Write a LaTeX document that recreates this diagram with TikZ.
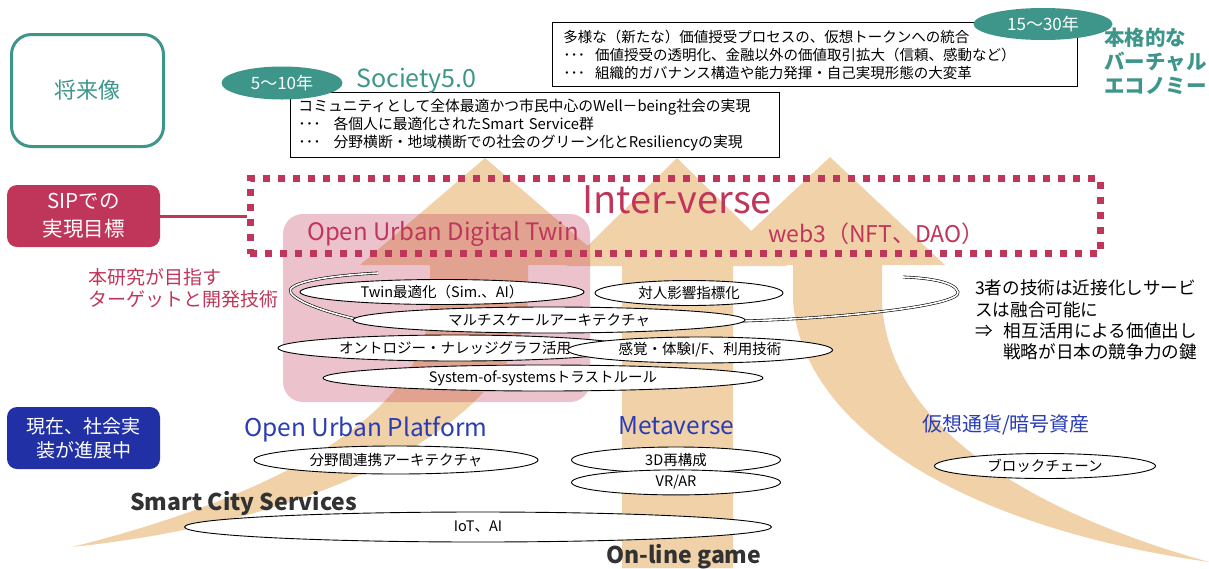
\documentclass[tikz,border=0pt]{standalone}
\usepackage{fontspec}
\setmainfont{Noto Sans CJK JP}
\usepackage{xcolor}
\definecolor{sipcrimson}{RGB}{192,54,90}
\definecolor{visionteal}{RGB}{62,150,138}
\definecolor{nowblue}{RGB}{33,48,165}
\definecolor{fieldblue}{RGB}{40,60,180}
\definecolor{growtan}{RGB}{241,210,168}
\definecolor{inkgray}{RGB}{50,50,50}
\usepackage{tikz}
\usetikzlibrary{shapes.geometric, positioning}
\newcommand{\fsz}[2]{\fontsize{#1pt}{#2pt}\selectfont}

\begin{document}
\begin{tikzpicture}[x=1pt, y=-1pt,
  techoval/.style={ellipse, draw, line width=0.9pt, fill=white, inner sep=0pt, font=\fsz{14.5}{17}},
  yearoval/.style={ellipse, fill=visionteal, text=white, inner sep=0pt, font=\fsz{17}{20}},
  notebox/.style={rectangle, draw, line width=0.9pt, fill=white, align=left, inner xsep=8pt,
               inner ysep=0pt, anchor=north west, font=\fsz{14.8}{18}},
  tagbox/.style={rectangle, rounded corners=10pt, text=white, align=center,
               minimum width=153pt, minimum height=62pt, inner sep=0pt},
  fieldlbl/.style={text=fieldblue, inner sep=0pt, font=\fsz{24.5}{28}},
  growth/.style={fill=growtan}
]
\useasboundingbox (0,0) rectangle (1209,568);

\fill[growth] (72,547) .. controls (260,500) and (430,420) .. (430,300) -- (430,265) -- (360,265) -- (485,158)
  -- (610,265) -- (528,265) -- (528,300) .. controls (520,420) and (330,520) .. (72,547) -- cycle;
\fill[growth] (622,568) -- (622,266) -- (567,266) -- (677,158) -- (787,266) -- (733,266) -- (733,568) -- cycle;
\fill[growth] (1209,562) .. controls (1040,515) and (886,430) .. (882,300) -- (882,265) -- (945,265) -- (830,157)
  -- (715,265) -- (793,265) -- (793,300) .. controls (800,420) and (950,525) .. (1209,562) -- cycle;

\fill[sipcrimson, opacity=0.3, rounded corners=20pt] (283,214) rectangle (590,402);

\node[draw=sipcrimson, line width=7pt, dash pattern=on 7pt off 8pt, minimum width=850pt,
      minimum height=75pt, inner sep=0pt] (iverse) at (675,216) {};
\node[text=sipcrimson, inner sep=0pt, font=\fsz{38}{42}] (ivtitle) at (677,200) {Inter-verse};
\node[text=sipcrimson, inner sep=0pt, font=\fsz{24}{26}, anchor=base west] (oudt) at (307,240) {Open Urban Digital Twin};
\node[text=sipcrimson, inner sep=0pt, font=\fsz{23}{26}, anchor=base west] (web3) at (768,242) {web3（NFT、DAO）};

\node[tagbox, fill=sipcrimson, font=\fsz{20.5}{28}] (sip) at (83.5,216) {SIPでの\\実現目標};
\draw[sipcrimson, line width=3pt] (sip.east) -- (sip.east -| iverse.west);

\node[draw=visionteal, line width=3pt, rounded corners=20pt, minimum width=152pt, minimum height=112pt,
      text=visionteal, font=\fsz{22}{24}] (vision) at (87.5,90.5) {将来像};

\node[notebox, minimum width=489pt, minimum height=65pt, text width=473pt] (s50box) at (290,92)
  {コミュニティとして全体最適かつ市民中心のWell－being社会の実現\\
   ･･･\hspace{13pt}各個人に最適化されたSmart Service群\\
   ･･･\hspace{13pt}分野横断・地域横断での社会のグリーン化とResiliencyの実現};
\node[yearoval, minimum width=121pt, minimum height=33pt] (near) at (282,83) {5～10年};
\node[text=visionteal, inner sep=0pt, anchor=base west, font=\fsz{25}{28}] (s50) at (356,87) {Society5.0};

\node[notebox, minimum width=525pt, minimum height=64pt, text width=503pt, inner xsep=11pt,
      font=\fsz{14.5}{18}] (valuebox) at (552,22)
  {多様な（新たな）価値授受プロセスの、仮想トークンへの統合\\
   ･･･\hspace{10pt}価値授受の透明化、金融以外の価値取引拡大（信頼、感動など）\\
   ･･･\hspace{10pt}組織的ガバナンス構造や能力発揮・自己実現形態の大変革};
\node[yearoval, minimum width=139pt, minimum height=32pt] (far) at (1043,24) {15～30年};
\node[text=visionteal, inner sep=0pt, anchor=west, align=left, font=\fsz{20.5}{24}\bfseries] (economy) at (1104,61)
  {本格的な\\バーチャル\\エコノミー};

\node[text=sipcrimson, inner sep=0pt, anchor=west, align=left, font=\fsz{19}{22}] (aim) at (88,288)
  {本研究が目指す\\ターゲットと開発技術};
\node[inner sep=0pt, anchor=west, align=left, font=\fsz{17.6}{21.3}] (fusion) at (975,320)
  {3者の技術は近接化しサービ\\スは融合可能に\\⇒\hspace{11pt}相互活用による価値出し\\\hspace{28pt}戦略が日本の競争力の鍵};

\draw[line width=0.6pt, double=white, double distance=1.6pt] (378,273) .. controls (320,276) and (284,284) .. (291,293)
  .. controls (298,303) and (330,313) .. (356,319) -- (742,321) .. controls (850,318) and (962,305) .. (958,292)
  .. controls (955,282) and (930,278) .. (903,277);

\node[techoval, minimum width=284pt, minimum height=25pt] (twin) at (442,292) {Twin最適化（Sim.、AI）};
\node[techoval, minimum width=188pt, minimum height=25pt] (impact) at (689,293) {対人影響指標化};
\node[techoval, minimum width=392pt, minimum height=26pt] (multiscale) at (549,320) {マルチスケールアーキテクチャ};
\node[techoval, minimum width=354pt, minimum height=26pt] (ontology) at (455,348) {オントロジー・ナレッジグラフ活用};
\node[techoval, minimum width=265pt, minimum height=26pt] (sensing) at (700,350) {感覚・体験I/F、利用技術};
\node[techoval, minimum width=440pt, minimum height=26pt] (trust) at (543,378) {System-of-systemsトラストルール};

\node[tagbox, fill=nowblue, font=\fsz{19}{24}] (now) at (83.5,438) {現在、社会実\\装が進展中};
\node[fieldlbl, anchor=base west] (oup) at (244,436) {Open Urban Platform};
\node[fieldlbl, anchor=base west] (meta) at (618,434) {Metaverse};
\node[fieldlbl, font=\fsz{20}{24}] (crypto) at (1006,425) {仮想通貨/暗号資産};

\node[techoval, minimum width=284pt, minimum height=28pt] (crossfield) at (396,460) {分野間連携アーキテクチャ};
\node[techoval, minimum width=209pt, minimum height=26pt] (rebuild) at (676,460) {3D再構成};
\node[techoval, minimum width=209pt, minimum height=25pt, below=-4pt of rebuild] (vrar) {VR/AR};
\node[techoval, minimum width=221pt, minimum height=25pt] (chain) at (1045,466) {ブロックチェーン};

\node[techoval, minimum width=587pt, minimum height=30pt] (iot) at (478,527) {IoT、AI};
\node[inner sep=0pt, anchor=base west, text=inkgray, font=\fsz{23}{26}\bfseries] (scs) at (130,510) {Smart City Services};
\node[inner sep=0pt, anchor=base west, text=inkgray, font=\fsz{23}{26}\bfseries] (game) at (606,563) {On-line game};
\end{tikzpicture}
\end{document}
